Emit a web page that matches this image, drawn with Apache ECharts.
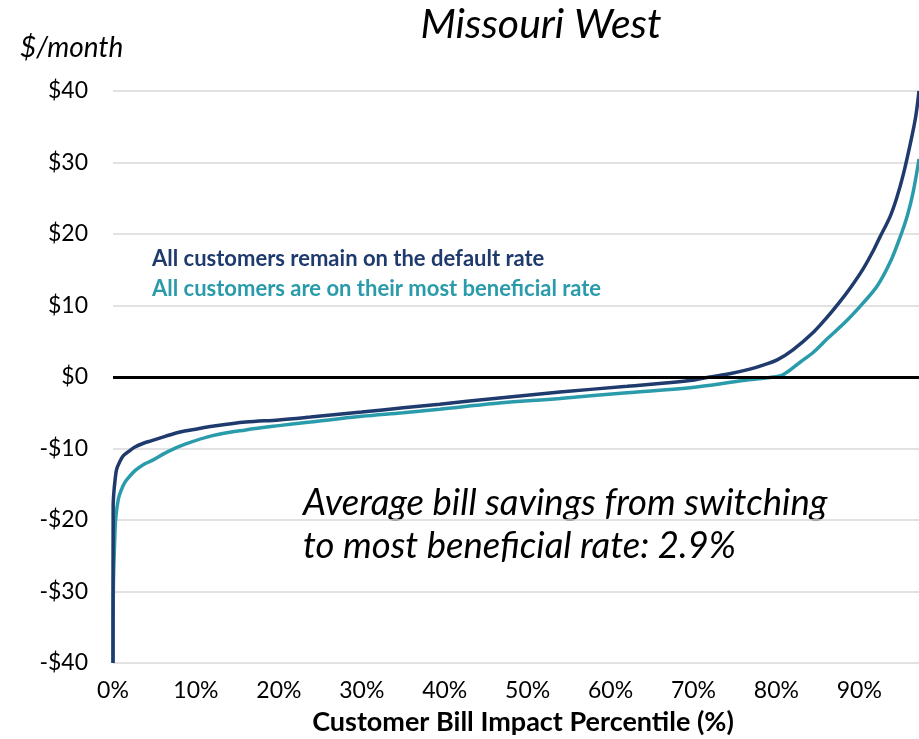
<!DOCTYPE html>
<html>
<head>
<meta charset="utf-8">
<script src="https://cdn.jsdelivr.net/npm/echarts@6/dist/echarts.min.js"></script>
<style>
html,body{margin:0;padding:0;background:#fff;}
#chart{width:919px;height:739px;}
</style>
</head>
<body>
<div id="chart"></div>
<script>
// Percentile positions (x, %) and monthly bill impact ($/month)
var defaultX = [0, 0.02, 0.1, 0.25, 0.44, 0.8, 1.25, 1.9, 2.65, 3.6, 4.67, 6.3, 8.1, 10, 12, 16, 20, 23.8, 30, 35, 39.4, 46, 53.9, 62, 69.6, 72, 74.5, 76.8, 78.5, 80.1, 82, 84.5, 86, 87.5, 89, 90.5, 91.7, 92.5, 93.7, 94.5, 95.3, 96.2, 96.8, 97.2];
var defaultY = [-40, -18, -16.2, -14.4, -12.9, -11.9, -11.0, -10.4, -9.8, -9.3, -8.9, -8.3, -7.7, -7.3, -6.9, -6.3, -6.0, -5.6, -4.9, -4.3, -3.8, -3.0, -2.1, -1.3, -0.5, 0, 0.5, 1.1, 1.7, 2.4, 3.8, 6.3, 8.2, 10.3, 12.6, 15.2, 17.7, 19.6, 22.4, 25.0, 28.3, 32.9, 36.4, 40];
var beneficialX = [0, 0.05, 0.2, 0.32, 0.64, 1.0, 1.45, 2.0, 2.65, 3.6, 4.67, 6.5, 8.7, 12, 16, 20, 23.8, 30, 35, 39.4, 46, 53.9, 62, 69.6, 76, 79.6, 80.8, 82.9, 84.5, 86.1, 88.5, 90.5, 92.2, 93.7, 94.9, 95.8, 96.5, 97.2];
var beneficialY = [-40, -29, -23, -19.9, -17.1, -15.8, -14.7, -13.9, -13.1, -12.3, -11.7, -10.5, -9.4, -8.2, -7.4, -6.8, -6.3, -5.5, -5.0, -4.5, -3.7, -3.0, -2.2, -1.5, -0.5, 0, 0.3, 2.1, 3.5, 5.3, 7.9, 10.4, 12.8, 16.0, 19.5, 22.6, 25.9, 30.5];
var yTicks = [-40, -30, -20, -10, 0, 10, 20, 30, 40];
var xTicks = [0, 10, 20, 30, 40, 50, 60, 70, 80, 90];

var seriesNames = ['All customers remain on the default rate', 'All customers are on their most beneficial rate'];
var titleText = 'Missouri West';
var yUnit = '$/month';
var xName = 'Customer Bill Impact Percentile (%)';
var noteLines = ['Average bill savings from switching', 'to most beneficial rate: 2.9%'];

var DARK = '#1f3a6d';
var TEAL = '#2a9bab';
var FONT = 'Lato, "Open Sans", sans-serif';

function pairs(xs, ys) { return xs.map(function (x, i) { return [x, ys[i]]; }); }

var chart = echarts.init(document.getElementById('chart'), null, { renderer: 'canvas' });
chart.setOption({
  animation: false,
  backgroundColor: '#fff',
  grid: { left: 113, right: 0, top: 91, bottom: 76, containLabel: false },
  xAxis: {
    type: 'value', min: 0, max: 97.2, interval: 10,
    axisLine: { show: false }, axisTick: { show: false }, splitLine: { show: false },
    axisLabel: {
      showMaxLabel: false, margin: 16, color: '#000', fontFamily: FONT, fontSize: 23,
      formatter: function (v) { return xTicks.indexOf(v) >= 0 ? v + '%' : ''; }
    }
  },
  yAxis: {
    type: 'value', min: -40, max: 40, interval: 10,
    axisLine: { show: false }, axisTick: { show: false },
    splitLine: { show: true, lineStyle: { color: '#d9d9d9', width: 1.5 } },
    axisLabel: {
      margin: 25, color: '#000', fontFamily: FONT, fontSize: 23,
      formatter: function (v) { return yTicks.indexOf(v) >= 0 ? (v < 0 ? '-$' + Math.abs(v) : '$' + v) : ''; }
    }
  },
  series: [
    {
      name: seriesNames[0], type: 'line', data: pairs(defaultX, defaultY),
      showSymbol: false, smooth: 0.35, z: 3,
      lineStyle: { color: DARK, width: 3.5 },
      markLine: {
        silent: true, symbol: 'none', label: { show: false },
        lineStyle: { color: '#000', width: 3, type: 'solid' },
        data: [{ yAxis: 0 }]
      }
    },
    {
      name: seriesNames[1], type: 'line', data: pairs(beneficialX, beneficialY),
      showSymbol: false, smooth: 0.35, z: 2,
      lineStyle: { color: TEAL, width: 3.5 }
    }
  ],
  graphic: [
    { type: 'text', x: 541, y: 25, style: { text: titleText, font: 'italic 41px ' + FONT, fill: '#000', textAlign: 'center', textVerticalAlign: 'middle' } },
    { type: 'text', x: 20, y: 48, style: { text: yUnit, font: 'italic 28px ' + FONT, fill: '#000', textVerticalAlign: 'middle' } },
    { type: 'text', x: 523, y: 722, style: { text: xName, font: 'bold 27px ' + FONT, fill: '#000', textAlign: 'center', textVerticalAlign: 'middle' } },
    { type: 'text', x: 152, y: 259, style: { text: seriesNames[0], font: 'bold 22px ' + FONT, fill: DARK, textVerticalAlign: 'middle' } },
    { type: 'text', x: 152, y: 289, style: { text: seriesNames[1], font: 'bold 22px ' + FONT, fill: TEAL, textVerticalAlign: 'middle' } },
    { type: 'text', x: 303, y: 503, style: { text: noteLines[0], font: 'italic 36.5px ' + FONT, fill: '#000', textVerticalAlign: 'middle' } },
    { type: 'text', x: 303, y: 546, style: { text: noteLines[1], font: 'italic 36.5px ' + FONT, fill: '#000', textVerticalAlign: 'middle' } }
  ]
});
</script>
</body>
</html>
